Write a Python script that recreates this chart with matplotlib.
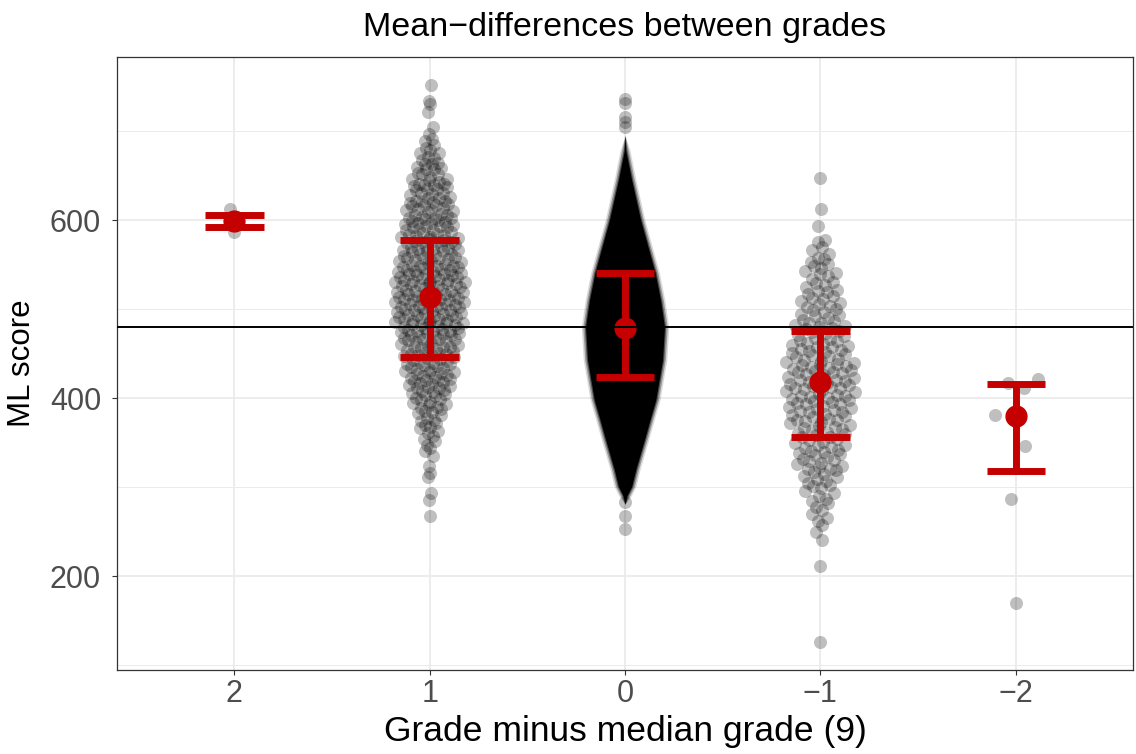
import matplotlib
matplotlib.use('Agg')
import matplotlib.pyplot as plt
import numpy as np

plt.rcParams['font.family'] = ['Liberation Sans', 'DejaVu Sans']

# categories (grade minus median grade)
grades = ["2", "1", "0", "\u22121", "\u22122"]

# model estimates per grade: mean with lower / upper interval
est_mean = [599, 514, 479, 418, 380]
est_low = [592, 446, 424, 357, 318]
est_high = [606, 578, 541, 476, 416]
ref_line = 480

# ML scores
scores_p2 = [613, 587]

scores_p1 = [
    752, 734, 731, 721, 705,
    697, 691, 689, 684, 681,
    679, 676, 675, 671, 670, 668, 664, 663, 663, 660,
    658, 657, 653, 652, 652, 649, 646, 646, 645, 643, 641, 641, 640, 659,
    639, 638, 635, 635, 634, 630, 630, 629, 628, 626, 625, 625, 622, 621, 621, 620, 637,
    619, 617, 617, 616, 614, 613, 611, 611, 610, 609, 607, 606, 606, 604, 603, 602, 602, 601, 600, 618,
    599, 597, 597, 596, 594, 593, 592, 592, 590, 589, 589, 587, 586, 585, 583, 583, 582, 581, 581, 580, 595, 598,
    579, 578, 576, 575, 575, 574, 571, 571, 570, 569, 568, 567, 565, 565, 564, 562, 562, 561, 560, 577, 573, 566, 568,
    559, 558, 558, 556, 555, 554, 554, 552, 551, 550, 549, 548, 547, 547, 545, 544, 543, 542, 542, 541, 540, 557, 553,
    546, 549, 544,
    539, 538, 538, 536, 535, 534, 533, 531, 531, 530, 529, 528, 527, 526, 526, 524, 523, 522, 521, 521, 520, 537, 532,
    529, 525, 533, 536, 528, 539,
    519, 518, 517, 516, 515, 515, 514, 512, 511, 510, 510, 508, 507, 506, 505, 504, 503, 502, 501, 500, 513, 517, 509,
    504, 506, 512, 519, 501, 508,
    499, 498, 496, 495, 494, 493, 491, 490, 489, 488, 487, 486, 484, 483, 482, 481, 480, 497, 492, 489, 485, 494, 499,
    487, 482, 491, 496, 484,
    479, 477, 476, 475, 473, 472, 471, 470, 468, 467, 466, 464, 463, 461, 460, 478, 474, 469, 465, 462, 476, 471, 467,
    479, 473,
    459, 457, 456, 454, 453, 451, 450, 449, 447, 445, 444, 442, 441, 440, 458, 455, 452, 448, 446, 443, 457, 450,
    439, 437, 436, 434, 433, 431, 429, 428, 426, 425, 423, 421, 420, 438, 435, 430, 427, 424, 432, 422,
    419, 417, 416, 414, 412, 411, 409, 407, 405, 404, 402, 400, 418, 413, 408, 406, 415,
    398, 396, 395, 392, 390, 389, 386, 385, 383, 381, 394, 388, 399,
    378, 375, 374, 370, 368, 366, 363, 361, 372,
    358, 354, 352, 347, 344, 341,
    335, 324, 316, 311, 294, 286, 268,
]

# grade 0: too dense to read point by point -> outline of the black mass
# plus the loose points above and below it
blob_levels = [695, 678, 645, 600, 541, 510, 480, 443, 398, 376, 354, 320, 301, 290, 281]
blob_halfwidth = [0.0, 0.026, 0.056, 0.102, 0.176, 0.204, 0.224, 0.214, 0.179, 0.150, 0.122, 0.077, 0.056, 0.031, 0.0]
scores_0_tails = [736, 732, 716, 710, 705, 283, 268, 253]

scores_m1 = [
    647, 613, 594,
    578, 575, 570, 566, 562,
    558, 556, 553, 551, 548, 546, 543, 541,
    539, 537, 534, 531, 529, 527, 525, 522, 520,
    519, 517, 515, 513, 511, 509, 507, 506, 504, 502, 500,
    499, 497, 495, 493, 492, 490, 488, 487, 485, 484, 482, 481, 480,
    479, 478, 476, 474, 473, 471, 470, 468, 467, 465, 464, 462, 461, 460,
    459, 458, 457, 455, 454, 452, 451, 450, 448, 447, 446, 444, 443, 442, 441, 440, 453,
    439, 438, 437, 435, 434, 433, 432, 430, 429, 428, 427, 426, 424, 423, 422, 421, 420, 436, 431,
    419, 418, 417, 415, 414, 413, 411, 410, 409, 408, 407, 405, 404, 403, 402, 401, 400, 416, 412,
    399, 398, 396, 395, 394, 393, 391, 390, 389, 387, 386, 385, 384, 382, 381, 380, 397, 388,
    379, 377, 376, 375, 373, 372, 370, 369, 368, 366, 365, 364, 362, 361, 360, 374,
    359, 357, 356, 354, 353, 351, 350, 348, 347, 345, 344, 342, 341, 340,
    339, 337, 336, 334, 332, 331, 329, 327, 326, 324, 323, 321, 320,
    319, 317, 315, 313, 311, 309, 307, 305, 303, 301,
    299, 296, 293, 290, 287, 285, 282,
    278, 274, 270, 265, 262,
    258, 250, 241,
    211, 126,
]

scores_m2 = [422, 417, 412, 381, 346, 287, 170]


def vdc(k, base=2):
    v, denom = 0.0, 1.0
    while k:
        k, r = divmod(k, base)
        denom *= base
        v += r / denom
    return v


def quasirandom(y, width=0.19):
    # quasirandom (van der Corput) offsets scaled by local density
    y = np.asarray(y, float)
    n = len(y)
    if n < 2:
        return np.zeros(n)
    bw = 0.6 * y.std() * n ** -0.2
    d = np.exp(-0.5 * ((y[:, None] - y[None, :]) / bw) ** 2).sum(axis=1)
    d /= d.max()
    ranks = np.argsort(np.argsort(y))
    v = np.array([vdc(r + 1) for r in ranks])
    return (v - 0.5) * 2 * width * min(1.0, n / 8) * d


red = '#C40000'
pos = np.arange(1, len(grades) + 1)

fig = plt.figure(figsize=(11.36, 7.54), dpi=100)
ax = fig.add_axes([0.103, 0.1114, 0.8944, 0.813])

pt_style = dict(s=88, color='black', alpha=0.25, linewidths=0, zorder=2)
for p, ys in zip(pos, [scores_p2, scores_p1, None, scores_m1, scores_m2]):
    if ys is None:
        continue
    ax.scatter(p + quasirandom(ys, 0.185), ys, **pt_style)

# dense grade-0 cloud, soft edge like overlapping translucent dots
lv = np.array(blob_levels)
hw = np.array(blob_halfwidth)
for extra, a in [(0.0, 0.15), (-0.008, 0.3), (-0.016, 0.5)]:
    w = np.clip(hw + extra, 0, None)
    ax.fill_betweenx(lv, pos[2] - w, pos[2] + w, color='black', alpha=a, lw=0, zorder=2)
w = np.clip(hw - 0.022, 0, None)
ax.fill_betweenx(lv, pos[2] - w, pos[2] + w, color='black', lw=0, zorder=2)
ax.scatter(pos[2] + quasirandom(scores_0_tails, 0.0), scores_0_tails, **pt_style)

# estimates with intervals
ax.vlines(pos, est_low, est_high, color=red, lw=5, zorder=3)
ax.hlines(est_low, pos - 0.15, pos + 0.15, color=red, lw=5, zorder=3)
ax.hlines(est_high, pos - 0.15, pos + 0.15, color=red, lw=5, zorder=3)
ax.plot(pos, est_mean, 'o', ms=15, color=red, zorder=4)

ax.axhline(ref_line, color='black', lw=1.4, zorder=5)

all_y = scores_p2 + scores_p1 + scores_0_tails + scores_m1 + scores_m2
lo, hi = min(all_y), max(all_y)
pad = 0.05 * (hi - lo)
ax.set_ylim(lo - pad, hi + pad)
ax.set_xlim(0.4, len(grades) + 0.6)

ax.set_xticks(pos)
ax.set_xticklabels(grades)
ax.set_yticks([200, 400, 600])
ax.set_yticks([100, 300, 500, 700], minor=True)
ax.grid(True, which='major', color='#EBEBEB', lw=1.3, zorder=0)
ax.grid(True, which='minor', axis='y', color='#EBEBEB', lw=0.7, zorder=0)
ax.set_axisbelow(True)
ax.tick_params(which='major', length=3.5, width=0.8, color='#333333', labelsize=22, labelcolor='#4D4D4D')
ax.tick_params(axis='x', which='major', pad=3)
ax.tick_params(axis='y', which='major', pad=8)
ax.tick_params(which='minor', length=0)
for s in ax.spines.values():
    s.set_color('#333333')
    s.set_linewidth(0.9)

ax.set_title("Mean\u2212differences between grades", fontsize=24.5, pad=15)
ax.set_xlabel("Grade minus median grade (9)", fontsize=25.5, labelpad=4)
ax.set_ylabel("ML score", fontsize=22.5, labelpad=9)

fig.savefig('out.png', dpi=100)
